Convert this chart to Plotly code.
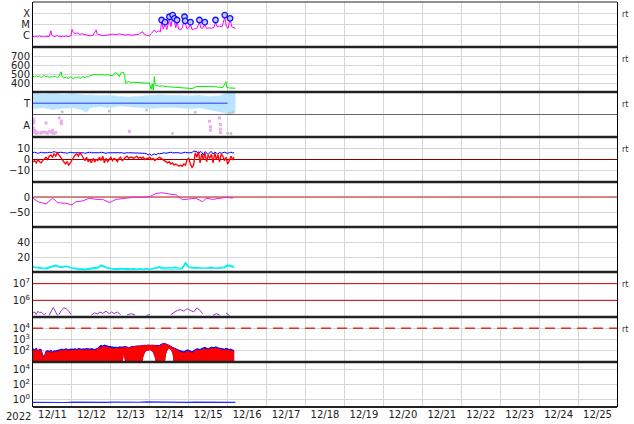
import numpy as np
import pandas as pd
import plotly.graph_objects as go
from plotly.subplots import make_subplots

START = pd.Timestamp("2022-12-11 00:00")
END = pd.Timestamp("2022-12-26 00:00")


def t(hours):
    return [None if h is None else START + pd.Timedelta(hours=h) for h in hours]


def unzip(pairs):
    xs = [p[0] if p is not None else None for p in pairs]
    ys = [p[1] if p is not None else None for p in pairs]
    return xs, ys


HOURS = list(range(125))

# ---------------- data ----------------
# Panel 1: X-ray flux (W/m^2)
xray = [(0, 9e-7), (1, 8e-7), (2, 9.5e-7), (3, 7.5e-7), (4, 1.0e-6), (5, 8e-7), (6, 8.5e-7), (7, 7.8e-7),
        (8, 9e-7), (9, 8e-7), (10, 8.2e-7), (11, 2.8e-6), (11.6, 1.1e-6), (12.5, 9e-7), (14, 8.5e-7),
        (15, 1.1e-6), (16, 8e-7), (18, 9e-7), (19, 8e-7), (20, 9.5e-7), (22, 8.5e-7), (23.5, 1.0e-6),
        (24, 3.6e-6), (25, 1.9e-6), (26, 1.5e-6), (27, 1.8e-6), (29, 1.3e-6), (30, 1.5e-6), (31, 1.4e-6),
        (33, 1.1e-6), (35, 1.0e-6), (37, 1.1e-6), (38.9, 3.3e-6), (39.5, 1.5e-6), (41, 1.2e-6), (43, 1.0e-6),
        (45, 1.1e-6), (47, 1.3e-6), (49, 1.4e-6), (51, 1.25e-6), (53, 1.45e-6), (55, 1.3e-6), (57, 1.15e-6),
        (59, 1.3e-6), (61, 1.1e-6), (63, 1.25e-6), (65, 1.3e-6), (67.6, 2.3e-6), (68.5, 1.4e-6), (70, 1.1e-6),
        (71.8, 1.0e-6), (73, 1.6e-6), (74.8, 3.3e-6), (76, 2.0e-6), (77.5, 2.8e-6), (78.5, 2.2e-6),
        (79.3, 1.7e-5), (80.3, 4.0e-6), (81.4, 1.1e-5), (82.5, 3.5e-6), (84.1, 3.2e-5), (85, 6.3e-6),
        (86.1, 4.5e-5), (87.2, 2.2e-5), (88, 5.0e-6), (88.8, 1.6e-5), (89.8, 4.0e-6), (91, 3.2e-6),
        (92, 5.0e-6), (93.4, 3.2e-5), (93.8, 1.3e-5), (95, 4.0e-6), (96, 5.0e-6), (97.1, 1.0e-5),
        (98, 3.5e-6), (99.5, 4.0e-6), (101, 4.5e-6), (102.6, 1.6e-5), (103.5, 5.0e-6), (104.5, 4.5e-6),
        (105.9, 1.0e-5), (107, 4.5e-6), (108.5, 5.0e-6), (110, 4.5e-6), (111.5, 5.6e-6), (112.5, 1.6e-5),
        (113.5, 6.3e-6), (115, 7.1e-6), (116.5, 6.3e-6), (118.2, 4.5e-5), (119.2, 6.3e-6), (120.3, 4.5e-6),
        (121.5, 3.2e-5), (122.5, 6.3e-6), (124.8, 4.5e-6)]
flares = [(79.3, 2.5e-5), (81.4, 1.6e-5), (84.1, 4.9e-5), (86.1, 6.9e-5), (87.2, 3.5e-5), (88.8, 2.5e-5),
          (93.4, 4.9e-5), (93.8, 2.1e-5), (97.1, 1.6e-5), (102.6, 2.5e-5), (105.9, 1.6e-5),
          (112.5, 2.5e-5), (118.2, 6.9e-5), (121.5, 3.5e-5)]
xray_ticks = [1e-6, 1e-5, 1e-4]
xray_labels = ["C", "M", "X"]

# Panel 2: solar wind speed (km/s)
speed = [(0, 475), (1, 465), (2, 480), (3, 470), (4, 478), (5, 462), (6, 470), (7, 485), (8, 468), (9, 475),
         (10, 460), (11, 472), (12, 465), (13, 478), (14, 470), (15, 460), (16, 475), (17.3, 525), (18, 470),
         (19, 455), (20.5, 465), (22, 450), (23, 470), (24, 460), (25, 445), (26, 465), (27, 455), (28, 470),
         (29, 448), (30, 462), (31, 470), (32, 458), (33, 475), (34, 465), (35, 480), (36.8, 490), (38, 495),
         (40, 490), (42, 495), (44, 488), (46, 492), (48, 485), (49.2, 480), (50.2, 510), (51, 515), (52, 505),
         (53.3, 470), (54, 510), (55.8, 518), (56.5, 480), (57, 400), (57.5, 395), (58.5, 420), (59.5, 410),
         (62, 408), (65, 405), (68, 402), (70, 400), (71.8, 398), (72.8, 330), (73.5, 390), (74.2, 320),
         (74.8, 470), (75.3, 380), (75.9, 372), (78, 365), (80, 368), (82, 360), (84, 358), (86.1, 352),
         (88, 348), (90, 345), (92, 342), (94, 345), (96, 340), (98.5, 338), (100.5, 360), (103, 362),
         (106, 358), (109, 362), (112, 358), (114.9, 355), (117, 350), (119, 415), (119.5, 350), (121, 345),
         (123, 340), (124.8, 342)]
speed_ticks = [400, 500, 600, 700]

# Panel 3: T / A indicator bands
band_hours = [0, 6.2, 12.3, 18.5, 24.7, 30.8, 32.9, 35, 41.1, 47.3, 53.4, 59.6, 65.8, 71.9, 78, 84.2, 90.4,
              96.5, 102.7, 108.9, 115, 119.1, 121.2, 124.8]
band_top = [1.95, 1.9, 1.93, 1.88, 1.92, 1.87, 1.85, 1.88, 1.83, 1.86, 1.8, 1.78, 1.82, 1.85, 1.88, 1.84,
            1.86, 1.82, 1.85, 1.8, 1.83, 1.95, 1.97, 1.96]
band_bot = [1.25, 1.3, 1.22, 1.28, 1.3, 1.2, 1.08, 1.3, 1.35, 1.3, 1.38, 1.35, 1.3, 1.28, 1.3, 1.32, 1.3,
            1.25, 1.3, 1.22, 1.12, 1.05, 1.03, 1.08]
t_line = [(0, 1.5), (120, 1.5)]
gray_pts = [(2, 0.15), (5, 0.17), (9, 0.15), (12, 0.17), (13, 0.15), (86, 0.15), (120, 0.18), (122, 0.15),
            (18, 1.12), (47, 1.15), (70, 1.2), (100, 1.1), (121, 1.05), (123, 1.1)]
pink_pts = [(0.2, 0.8), (0.2, 0.6), (0.4, 0.4), (0.6, 0.3), (0.6, 0.7), (1.0, 0.2), (1.4, 0.25), (1.8, 0.2),
            (3, 0.18), (4.9, 0.2), (6.5, 0.22), (8.0, 0.2), (10, 0.25), (11.1, 0.22), (12.1, 0.3), (14, 0.2),
            (16.2, 0.85), (17.4, 0.7), (17.4, 0.6), (8, 0.62), (59.4, 0.25), (108.8, 0.7), (109.4, 0.45),
            (109.4, 0.3), (114.9, 0.85), (115.5, 0.55), (115.5, 0.35), (115.5, 0.2)]

# Panel 4: IMF Bt and Bz (nT), hourly
bt = [6, 6.5, 6, 5.5, 6, 6.5, 6, 6, 5.5, 6,
      6.5, 6, 6.5, 7, 6.5, 6, 6, 6.5, 6, 6,
      6, 5.5, 6, 6.5, 6, 6, 6.5, 6.5, 6, 6,
      6, 6, 5.5, 6, 6, 6.5, 6, 6, 5.5, 6,
      6, 6, 6.5, 6, 6, 5.5, 6, 6, 6, 6.5,
      6, 6, 6.5, 6, 6, 6, 5.5, 6, 6, 6,
      6, 6, 5.5, 6, 6, 6, 5.5, 6, 6, 5.5,
      5, 4, 5, 3.5, 4.5, 5, 4, 5.5, 5, 5.5,
      6, 6, 5.5, 6, 6, 6.5, 6, 6, 6.5, 6,
      6, 5.5, 6, 6, 6.5, 6, 6, 6.5, 6, 7.5,
      7.5, 7, 5, 7, 6.5, 4, 7, 6, 4.5, 6.5,
      7, 5, 6.5, 6, 4.5, 6.5, 5.5, 6, 6.5, 6,
      5.5, 6, 6.5, 6, 6]
bz = [-2, -1, -3, 0, -2, -3,
      -1, 1, 2, 0, 3, 4,
      2, 5, 3, 6, 4,
      2, -1, -3, -4, -2, -5,
      -3, 0, 2, 4, 5, 3, 6,
      4, 1, -1, 2, -2, 0, -3, 1, -2, 0,
      -1, 2, -1, 3, -3, 1, -2, 0, 2, -1,
      1, 0, -2, 1, 2, -1, 0, 2, 3, 1,
      2, 2, 1, 2, 3, 1, 2, 1, 2, 0,
      1, 1, 2, 0, 1, -1, 0, 1, 2, 1,
      0, -1, -2, -3, -2, -4, -3, -5, -4, -5,
      -6, -5, -6, -4, -5,
      0, 1,
      -4, -7, -5,
      6, 2, 7, -3, 5, 0, 6, -2, 4, 1,
      5, -3, 6, 0, 4, -2, 5, 3, -1, 2,
      -4, -1, 3, 0, 2]
imf_ticks = [-10, 0, 10]

# Panel 5: Dst (nT)
dst = [(0, -4), (3.1, -16), (8, -23), (12.1, -4), (15.2, -19), (20.3, -21), (24, -26), (26.5, -16),
       (30.6, -13), (34.7, -4), (38.9, -8), (43, -8), (47.1, -19), (51.2, -8), (57.4, -4), (61.5, -1),
       (65.6, -1), (71.8, 1), (75.9, 12), (80, 14), (84.1, 10), (88.2, 7), (92.3, -9), (96.4, -7),
       (100.5, -4), (104.6, -16), (106.7, -4), (110.8, -8), (114.9, -4), (119, -1), (123.2, -4)]
dst_ticks = [-50, 0]

# Panel 6: density (two sources), 2-hourly
dens_hours = list(range(0, 125, 2))
dens_a = [6, 5.5, 5, 4.5, 4, 5.5, 7, 8, 6.5, 6,
          7.5, 6, 4.5, 4, 3.5, 3, 3, 3.5, 4, 4.5,
          5, 8.5, 6, 5, 4, 3.5, 3.5, 4, 4, 3.5,
          3.5, 3, 3, 3.5, 3.5, 3, 3, 4, 5, 6,
          4, 4, 4.5, 5, 5, 4.5, 4, 11, 6, 5,
          5, 4.5, 4, 4, 5, 5, 4.5, 4, 5, 5.5,
          8, 7, 6]
dens_b = [7.5, 6, 6.5, 5, 5.5, 6.5, 8.5, 9, 7, 7.5,
          8, 7, 5, 5.5, 4, 4.5, 3.5, 4.5, 5, 5,
          6.5, 9.5, 7.5, 6, 5, 4, 4.5, 5, 4.5, 5,
          4, 4.5, 3.5, 4.5, 4, 4.5, 3.5, 5, 6, 7,
          5.5, 5, 5.5, 6, 6.5, 5, 5.5, 13, 7, 6.5,
          6, 5, 5.5, 5, 6, 6.5, 5, 5.5, 6, 7,
          9.5, 8, 7.5]
dens_ticks = [20, 40]

# Panel 7: electron flux with thresholds
electrons = [(0, 1.78e5), (1, 2.0e5), (2, 1.41e5), (3, 2.24e5), (4, 1.78e5), (5, 2.0e5), (6, 1.58e5),
             (7, 1.41e5), (8, 1.66e5), None, (10, 1.26e5), (12.5, 3.8e5), (15, 1.26e5), None,
             (16, 1.41e5), (17.5, 2.5e5), (19, 3.55e5), (20.5, 3.16e5), (22, 2.24e5), (23.5, 1.41e5), None,
             (36, 1.32e5), (38, 1.78e5), (40, 1.51e5), (41, 2.0e5), (43, 1.66e5), (45, 2.24e5), (47, 1.58e5),
             (48.5, 2.0e5), (50, 1.58e5), (52, 2.0e5), (54, 1.41e5), None, (58, 1.32e5), (60.5, 1.58e5),
             (63, 1.32e5), None, (70, 1.26e5), (72, 1.41e5), None, (85, 1.41e5), (87, 2.0e5), (89, 2.5e5),
             (91, 2.82e5), (93, 2.24e5), (95, 3.16e5), (97, 2.5e5), (99, 2.0e5), (101, 3.55e5), (103, 2.5e5),
             (104.5, 1.58e5), None, (111, 1.26e5), (113, 1.58e5), (115, 1.32e5), None, (119, 1.78e5),
             (121, 1.26e5)]
electron_thresholds = [1e6, 1e7]
electron_ticks = [1e6, 1e7]

# Panel 8: particle counts (hourly envelopes)
blue_top = [150, 120, 170, 100, 140, 130,
            40, 30, 90,
            100, 90, 110, 80, 100, 95, 110, 120,
            130, 140, 120, 150, 130, 125, 140, 130,
            140, 150, 130, 160, 145, 135, 150, 140, 160, 150, 140, 155, 145, 130, 150, 170,
            250, 300, 270, 320, 280, 260, 240, 230,
            220, 200, 210, 190, 220, 200, 210, 230,
            240, 220, 180, 230, 250, 240, 260, 250, 270, 260,
            300, 280, 310, 290, 320, 300, 330, 310, 300, 290, 280, 300,
            380, 420, 450, 400, 360, 300, 250, 200,
            180, 150, 130, 110, 100, 90, 80, 100, 120,
            110, 90, 80, 100, 120, 150, 140, 130, 160, 180,
            200, 170, 150, 180, 210, 190, 200, 220, 180, 170,
            150, 160, 140, 170, 150, 130, 140, 120, 100]
red_top = [120, 100, 130, 80, 110, 100,
           30, 25, 70,
           80, 70, 90, 60, 80, 75, 85, 90,
           100, 110, 95, 120, 100, 95, 110, 100,
           110, 120, 100, 130, 115, 105, 120, 110, 125, 120, 110, 120, 115, 100, 120, 140,
           180, 220, 200, 240, 210, 190, 170, 160,
           160, 150, 155, 140, 160, 150, 160, 180,
           200, 190, 150, 200, 230, 220, 240, 240, 260, 250,
           290, 280, 300, 290, 310, 300, 320, 300, 290, 270, 240, 270,
           350, 380, 400, 370, 330, 270, 220, 170,
           140, 120, 100, 85, 75, 70, 60, 75, 90,
           85, 70, 60, 75, 95, 120, 110, 100, 120, 140,
           150, 130, 120, 140, 160, 150, 160, 170, 140, 130,
           120, 120, 110, 130, 120, 100, 110, 90, 80]
particle_floor = 5
particle_holes = {56: 60, 68: 30, 69: 70, 70: 100, 71: 110, 72: 110, 73: 100, 74: 70, 75: 30,
                  82: 50, 83: 130, 84: 150, 85: 120, 86: 60}
particle_threshold = 1e4
particle_ticks = [1e2, 1e3, 1e4]

# Panel 9: low flux line
low_flux = [(0, 0.42), (5, 0.4), (10, 0.45), (15, 0.42), (20, 0.4), (25, 0.44), (30, 0.42), (35, 0.46),
            (40, 0.43), (45, 0.41), (50, 0.44), (55, 0.42), (60, 0.45), (65, 0.43), (70, 0.47), (75, 0.44),
            (80, 0.42), (85, 0.45), (90, 0.43), (95, 0.41), (100, 0.44), (105, 0.42), (110, 0.45),
            (115, 0.43), (120, 0.41), (124.8, 0.42)]
low_ticks = [1, 1e2, 1e4]

# ---------------- figure ----------------
fig = make_subplots(rows=9, cols=1, shared_xaxes=True, vertical_spacing=0)

GRID = "#d6d6d6"
FONT = "DejaVu Sans"

# Panel 1
h, v = unzip(xray)
fig.add_trace(go.Scatter(x=t(h), y=v, mode="lines", line=dict(color="#ff00ff", width=1)), row=1, col=1)
h, v = unzip(flares)
fig.add_trace(go.Scatter(x=t(h), y=v, mode="markers",
                         marker=dict(symbol="circle", size=5.5, color="#c8c8ff",
                                     line=dict(color="#1010ff", width=1.3))), row=1, col=1)

# Panel 2
h, v = unzip(speed)
fig.add_trace(go.Scatter(x=t(h), y=v, mode="lines", line=dict(color="#00ee00", width=1)), row=2, col=1)

# Panel 3
fig.add_trace(go.Scatter(x=t(band_hours), y=band_bot, mode="lines", line=dict(color="#b8e4ff", width=0.5)),
              row=3, col=1)
fig.add_trace(go.Scatter(x=t(band_hours), y=band_top, mode="lines", fill="tonexty", fillcolor="#b8e4ff",
                         line=dict(color="#b8e4ff", width=0.5)), row=3, col=1)
h, v = unzip(gray_pts)
fig.add_trace(go.Scatter(x=t(h), y=v, mode="markers", marker=dict(color="#c4c4c4", size=3)), row=3, col=1)
h, v = unzip(pink_pts)
fig.add_trace(go.Scatter(x=t(h), y=v, mode="markers", marker=dict(color="#f0a8f0", size=3, symbol="square")),
              row=3, col=1)
h, v = unzip(t_line)
fig.add_trace(go.Scatter(x=t(h), y=v, mode="lines", line=dict(color="#5a6cff", width=1.5)), row=3, col=1)
fig.add_trace(go.Scatter(x=[START, END], y=[1, 1], mode="lines", line=dict(color="#666666", width=1)),
              row=3, col=1)

# Panel 4
fig.add_trace(go.Scatter(x=[START, END], y=[0, 0], mode="lines", line=dict(color="#8b0000", width=1)),
              row=4, col=1)
fig.add_trace(go.Scatter(x=t(HOURS), y=bt, mode="lines", line=dict(color="#0000ff", width=1)), row=4, col=1)
fig.add_trace(go.Scatter(x=t(HOURS), y=bz, mode="lines", line=dict(color="#ff0000", width=1.3)), row=4, col=1)

# Panel 5
fig.add_trace(go.Scatter(x=[START, END], y=[0, 0], mode="lines", line=dict(color="#d06060", width=1.5)),
              row=5, col=1)
h, v = unzip(dst)
fig.add_trace(go.Scatter(x=t(h), y=v, mode="lines", line=dict(color="#e020e0", width=1)), row=5, col=1)

# Panel 6
fig.add_trace(go.Scatter(x=t(dens_hours), y=dens_a, mode="lines", line=dict(color="#00f0f0", width=1.2)),
              row=6, col=1)
fig.add_trace(go.Scatter(x=t(dens_hours), y=dens_b, mode="lines", line=dict(color="#00f0f0", width=1.2)),
              row=6, col=1)

# Panel 7
for thr in electron_thresholds:
    fig.add_trace(go.Scatter(x=[START, END], y=[thr, thr], mode="lines", line=dict(color="#cc0000", width=1)),
                  row=7, col=1)
h, v = unzip(electrons)
fig.add_trace(go.Scatter(x=t(h), y=v, mode="lines", connectgaps=False,
                         line=dict(color="#9933cc", width=1)), row=7, col=1)

# Panel 8
low_edge = [particle_holes.get(hh, particle_floor) for hh in HOURS]
fig.add_trace(go.Scatter(x=[START, END], y=[particle_threshold] * 2, mode="lines",
                         line=dict(color="#e03030", width=1.5, dash="10px,6px")), row=8, col=1)
fig.add_trace(go.Scatter(x=t(HOURS), y=low_edge, mode="lines", line=dict(width=0, color="#0000ff")),
              row=8, col=1)
fig.add_trace(go.Scatter(x=t(HOURS), y=blue_top, mode="lines", fill="tonexty", fillcolor="#0000ff",
                         line=dict(color="#0000ff", width=1)), row=8, col=1)
fig.add_trace(go.Scatter(x=t(HOURS), y=low_edge, mode="lines", line=dict(width=0, color="#ff0000")),
              row=8, col=1)
fig.add_trace(go.Scatter(x=t(HOURS), y=red_top, mode="lines", fill="tonexty", fillcolor="#ff0000",
                         line=dict(color="#ff0000", width=1)), row=8, col=1)

# Panel 9
h, v = unzip(low_flux)
fig.add_trace(go.Scatter(x=t(h), y=v, mode="lines", line=dict(color="#2030ff", width=1.2)), row=9, col=1)

# ---------------- axes ----------------
fig.update_xaxes(range=[START, END], showgrid=True, gridcolor=GRID, gridwidth=1, tick0=START,
                 dtick=86400000, ticks="", showline=False, zeroline=False)
fig.update_xaxes(showticklabels=True, tickformat="%m/%d", ticklabelmode="period",
                 tickfont=dict(size=10, family=FONT, color="#222"), row=9, col=1)

common_y = dict(showline=True, mirror=True, linecolor="black", linewidth=1, showgrid=True,
                gridcolor=GRID, gridwidth=1, zeroline=False, ticks="",
                tickfont=dict(size=10, family=FONT, color="#222"), fixedrange=True)

fig.update_yaxes(type="log", range=[-7, -3], tickmode="array", tickvals=xray_ticks, ticktext=xray_labels,
                 row=1, col=1, **common_y)
fig.update_yaxes(range=[300, 800], tickmode="array", tickvals=speed_ticks, row=2, col=1, **common_y)
fig.update_yaxes(range=[0, 2], tickmode="array", tickvals=[0.5, 1.5], ticktext=["A", "T"],
                 row=3, col=1, **{**common_y, "showgrid": False})
fig.update_yaxes(range=[-20, 20], tickmode="array", tickvals=imf_ticks, row=4, col=1, **common_y)
fig.update_yaxes(range=[-100, 50], tickmode="array", tickvals=dst_ticks, row=5, col=1, **common_y)
fig.update_yaxes(range=[0, 60], tickmode="array", tickvals=dens_ticks, row=6, col=1, **common_y)


def pow_labels(vals):
    return ["10<sup>%d</sup>" % round(np.log10(x)) for x in vals]


fig.update_yaxes(type="log", range=[5, 7.7], tickmode="array", tickvals=electron_ticks,
                 ticktext=pow_labels(electron_ticks), row=7, col=1, **common_y)
fig.update_yaxes(type="log", range=[1, 5], tickmode="array", tickvals=particle_ticks,
                 ticktext=pow_labels(particle_ticks), row=8, col=1, **common_y)
fig.update_yaxes(type="log", range=[-1, 5], tickmode="array", tickvals=low_ticks,
                 ticktext=pow_labels(low_ticks), row=9, col=1, **common_y)

# ---------------- frame, separators, labels ----------------
shapes = []
bounds = set()
for k in range(1, 10):
    dom = fig.layout["yaxis" if k == 1 else "yaxis%d" % k].domain
    bounds.add(round(dom[0], 6))
    bounds.add(round(dom[1], 6))
for b in sorted(bounds):
    if b <= 0.0001:
        w = 2
    elif b >= 0.9999:
        w = 1
    else:
        w = 2.5
    shapes.append(dict(type="line", xref="paper", yref="paper", x0=0, x1=1, y0=b, y1=b,
                       line=dict(color="#222222", width=w), layer="above"))

annotations = []
for k in [1, 2, 3, 4, 7, 8]:
    annotations.append(dict(text="rt", xref="paper", x=1, xanchor="left", xshift=3,
                            yref=("y" if k == 1 else "y%d" % k) + " domain", y=1, yanchor="top", yshift=-6,
                            showarrow=False, font=dict(size=8, family=FONT, color="#333")))
annotations.append(dict(text="2022", xref="paper", x=(18 - 33) / 584, xanchor="center", yref="paper", y=0,
                        yanchor="top", yshift=-2, showarrow=False,
                        font=dict(size=10, family=FONT, color="#222")))

fig.update_layout(width=634, height=424, margin=dict(l=33, r=17, t=2, b=17, pad=0),
                  plot_bgcolor="white", paper_bgcolor="white", showlegend=False,
                  font=dict(family=FONT, size=10, color="#222"),
                  shapes=shapes, annotations=annotations)

fig.write_html("out.html", config={"displayModeBar": False},
               post_script="document.body.style.margin='0';document.body.style.padding='0';")
